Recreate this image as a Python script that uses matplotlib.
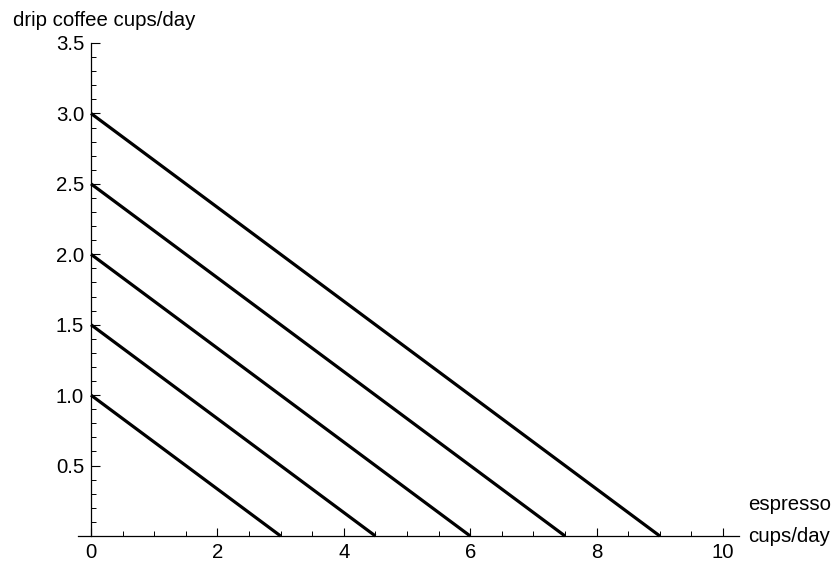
import matplotlib
matplotlib.use("Agg")
import matplotlib.pyplot as plt
from matplotlib.ticker import MultipleLocator
import numpy as np

plt.rcParams['font.family'] = ['Liberation Sans', 'DejaVu Sans']

# budget lines: drip-coffee intercepts and espresso intercepts
drip_intercepts = [1.0, 1.5, 2.0, 2.5, 3.0]
espresso_intercepts = [3.0, 4.5, 6.0, 7.5, 9.0]
x_ticks = [0, 2, 4, 6, 8, 10]
y_ticks = [0.5, 1.0, 1.5, 2.0, 2.5, 3.0, 3.5]

FS = 14.7

fig = plt.figure(figsize=(8.36, 5.64), dpi=100)
W, H = 836, 564
x0px, x10px = 91, 723
ppu = (x10px - x0px) / 10
xmin, xmax = -0.2, 10.25
left = (x0px + xmin * ppu) / W
width = (xmax - xmin) * ppu / W
bottom = (H - 536) / H
top = (H - 43) / H
ax = fig.add_axes([left, bottom, width, top - bottom])

for yi, xi in zip(drip_intercepts, espresso_intercepts):
    ax.plot([0, xi], [yi, 0], color='black', lw=2.3, solid_capstyle='butt', clip_on=False)

ax.set_xlim(xmin, xmax)
ax.set_ylim(0, 3.5)
ax.spines['top'].set_visible(False)
ax.spines['right'].set_visible(False)
ax.spines['left'].set_position(('data', 0))
ax.spines['left'].set_bounds(0, 3.5)
for s in ('left', 'bottom'):
    ax.spines[s].set_linewidth(0.9)

ax.set_xticks(x_ticks)
ax.set_xticklabels([str(v) for v in x_ticks])
ax.set_yticks(y_ticks)
ax.set_yticklabels([f"{v:.1f}" for v in y_ticks])
ax.xaxis.set_minor_locator(MultipleLocator(0.5))
ax.yaxis.set_minor_locator(MultipleLocator(0.1))
ax.tick_params(axis='both', which='major', direction='in', length=6, width=0.8, labelsize=FS, pad=5)
ax.tick_params(axis='both', which='minor', direction='in', length=3.5, width=0.7)
ax.tick_params(axis='y', which='major', length=6.5)

fig.text(13 / W, 1 - 20 / H, "drip coffee cups/day", fontsize=FS, ha='left', va='center')
fig.text(748 / W, 1 - 504 / H, "espresso", fontsize=FS, ha='left', va='center')
fig.text(748 / W, 1 - 536 / H, "cups/day", fontsize=FS, ha='left', va='center')

fig.savefig("out.png", dpi=100)
